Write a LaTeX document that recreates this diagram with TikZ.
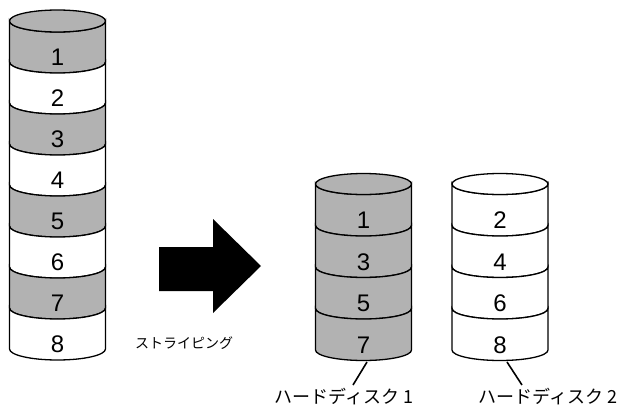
\documentclass[tikz,border=0pt]{standalone}
\usepackage{fontspec}
\setmainfont{Liberation Sans}
\newfontfamily\jpfont{Noto Sans CJK JP}
\definecolor{dk}{gray}{0.70}
\newcommand\cylseg[6]{% cx, y0, y1, fill, rx, ry
  \filldraw[fill=#4] (#1-#5,#2) -- (#1-#5,#3)
    arc[start angle=180,end angle=360,x radius=#5pt,y radius=#6pt]
    -- (#1+#5,#2)
    arc[start angle=360,end angle=180,x radius=#5pt,y radius=#6pt] -- cycle;}
\begin{document}
\begin{tikzpicture}[x=1pt,y=-1pt,line width=1.3pt,
  num/.style={font=\fontsize{24}{24}\selectfont,anchor=base,inner sep=0pt},
  jplab/.style={font=\jpfont\fontsize{18}{18}\selectfont,inner sep=0pt},
  jpsmall/.style={font=\jpfont\fontsize{14}{14}\selectfont,inner sep=0pt}]
\useasboundingbox (0,0) rectangle (630,407);
% left cylinder
\foreach \k/\c in {1/dk,2/white,3/dk,4/white,5/dk,6/white,7/dk,8/white}{
  \pgfmathsetmacro\ya{21+41*(\k-1)}
  \pgfmathsetmacro\yb{21+41*\k}
  \cylseg{57.5}{\ya}{\yb}{\c}{48}{11}
  \node[num] (L\k) at (57.5,{(\ya+\yb)/2+23.5}) {\k};
}
\filldraw[fill=dk] (57.5,21) ellipse[x radius=48pt,y radius=11pt];
% disk 1
\foreach \k/\n in {1/1,2/3,3/5,4/7}{
  \pgfmathsetmacro\ya{184+41.5*(\k-1)}
  \pgfmathsetmacro\yb{184+41.5*\k}
  \cylseg{363.5}{\ya}{\yb}{dk}{48}{10.5}
  \node[num] (A\k) at (363.5,{(\ya+\yb)/2+24}) {\n};
}
\filldraw[fill=dk] (363.5,184) ellipse[x radius=48pt,y radius=10.5pt];
% disk 2
\foreach \k/\n in {1/2,2/4,3/6,4/8}{
  \pgfmathsetmacro\ya{184+41.5*(\k-1)}
  \pgfmathsetmacro\yb{184+41.5*\k}
  \cylseg{500}{\ya}{\yb}{white}{48}{10.5}
  \node[num] (B\k) at (500,{(\ya+\yb)/2+24}) {\n};
}
\filldraw[fill=white] (500,184) ellipse[x radius=48pt,y radius=10.5pt];
% arrow
\fill (159,247) -- (213,247) -- (213,219) -- (261,266) -- (213,313) -- (213,291) -- (159,291) -- cycle;
\node[jpsmall] (stripe) at (184,343) {ストライピング};
% labels
\node[jplab] (lab1) at (344,397) {ハードディスク 1};
\node[jplab] (lab2) at (548,397) {ハードディスク 2};
\coordinate (d1) at (367,362);
\coordinate (t1) at (353,385);
\coordinate (d2) at (507,362);
\coordinate (t2) at (522,385);
\draw[line width=1.6pt] (d1) -- (t1);
\draw[line width=1.6pt] (d2) -- (t2);
\end{tikzpicture}
\end{document}
